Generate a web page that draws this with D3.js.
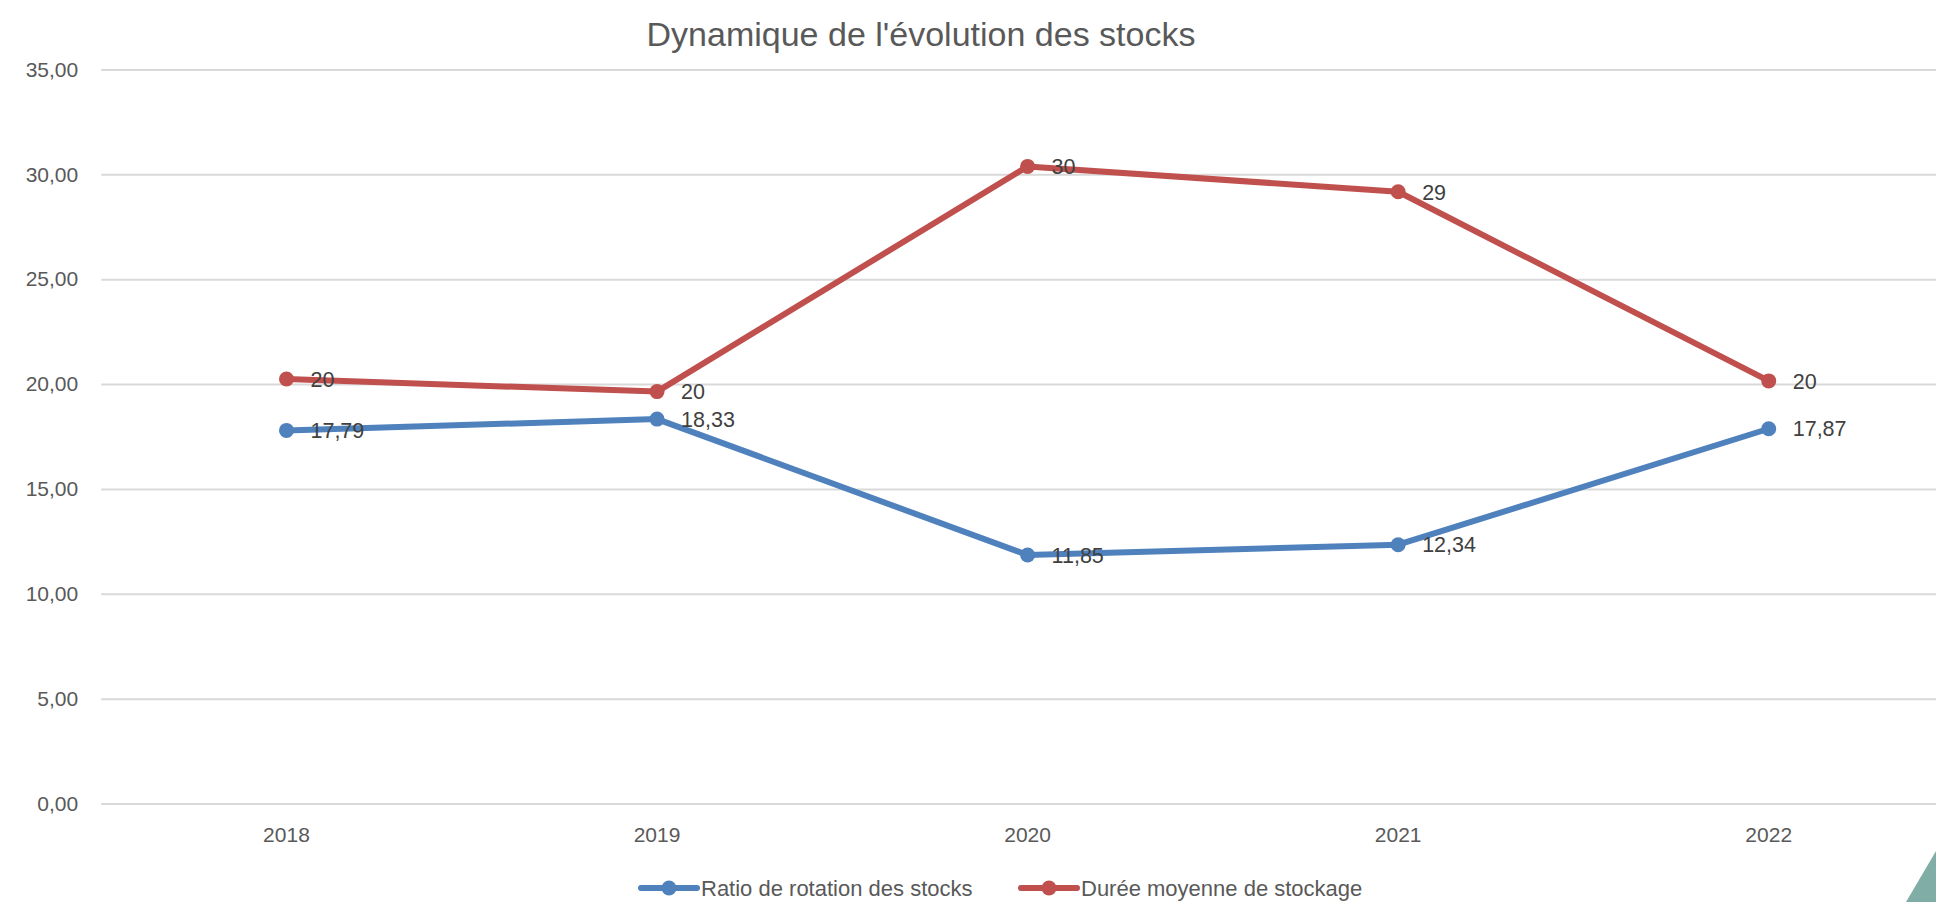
<!DOCTYPE html>
<html>
<head>
<meta charset="utf-8">
<script src="https://cdn.jsdelivr.net/npm/d3@7"></script>
<style>
  html, body { margin: 0; padding: 0; background: #ffffff; overflow: hidden; }
  svg { display: block; }
</style>
</head>
<body>
<svg id="chart" width="1936" height="902"></svg>
<script>
// ---- Data ----
const years = ["2018", "2019", "2020", "2021", "2022"];
const ratioRotation = [17.79, 18.33, 11.85, 12.34, 17.87];
const dureeMoyenne = [20.24, 19.64, 30.38, 29.17, 20.15];
const seriesNames = ["Ratio de rotation des stocks", "Durée moyenne de stockage"];
const yTicks = [0, 5, 10, 15, 20, 25, 30, 35];
const titleText = "Dynamique de l'évolution des stocks";

// ---- Setup ----
const W = 1936, H = 902;
const svg = d3.select("#chart");
const font = "'Liberation Sans', Arial, sans-serif";

const frLocale = d3.formatLocale({decimal: ",", thousands: " ", grouping: [3], currency: ["", " €"]});
const fmt2 = frLocale.format(".2f");
const fmt0 = frLocale.format(".0f");

const plot = {left: 101.2, right: 1954, top: 69.5, bottom: 803.5};

const x = d3.scaleBand().domain(years).range([plot.left, plot.right]).paddingInner(0).paddingOuter(0);
const y = d3.scaleLinear().domain([0, 35]).range([plot.bottom, plot.top]);
const cx = d => x(d) + x.bandwidth() / 2;

// Gridlines + y axis
const yAxis = d3.axisLeft(y).tickValues(yTicks).tickFormat(fmt2)
  .tickSize(-(plot.right - plot.left)).tickPadding(23);
const gy = svg.append("g").attr("transform", `translate(${plot.left},0)`).call(yAxis);
gy.select(".domain").remove();
gy.selectAll(".tick line").attr("stroke", "#d9d9d9").attr("stroke-width", 2);
gy.selectAll(".tick text").attr("fill", "#595959").style("font-family", font).style("font-size", "21px");

// x axis
const xAxis = d3.axisBottom(x).tickSize(0).tickPadding(24);
const gx = svg.append("g").attr("transform", `translate(0,${plot.bottom})`).call(xAxis);
gx.select(".domain").remove();
gx.selectAll(".tick text").attr("fill", "#595959").style("font-family", font).style("font-size", "21px");

// Title
svg.append("text").attr("x", 921).attr("y", 46).attr("text-anchor", "middle")
  .attr("fill", "#595959").style("font-family", font).style("font-size", "34px")
  .text(titleText);

// Series
const series = [
  {name: seriesNames[0], values: ratioRotation, color: "#4f81bd", fmt: fmt2},
  {name: seriesNames[1], values: dureeMoyenne, color: "#c0504d", fmt: fmt0}
];
const line = d3.line().x(d => cx(d.year)).y(d => y(d.value));

series.forEach(s => {
  const pts = years.map((yr, i) => ({year: yr, value: s.values[i]}));
  const g = svg.append("g");
  g.append("path").datum(pts).attr("d", line).attr("fill", "none")
    .attr("stroke", s.color).attr("stroke-width", 6).attr("stroke-linejoin", "round").attr("stroke-linecap", "round");
  g.selectAll("circle").data(pts).join("circle")
    .attr("cx", d => cx(d.year)).attr("cy", d => y(d.value)).attr("r", 7.5).attr("fill", s.color);
  g.selectAll("text").data(pts).join("text")
    .attr("x", d => cx(d.year) + 24).attr("y", d => y(d.value)).attr("dy", "0.36em")
    .attr("fill", "#404040").style("font-family", font).style("font-size", "21.5px")
    .text(d => s.fmt(d.value));
});

// Legend
const legendY = 888;
const legendItems = [{x0: 641, x1: 697, tx: 701}, {x0: 1021, x1: 1077, tx: 1081}];
series.forEach((s, i) => {
  const it = legendItems[i];
  svg.append("line").attr("x1", it.x0).attr("x2", it.x1).attr("y1", legendY).attr("y2", legendY)
    .attr("stroke", s.color).attr("stroke-width", 6).attr("stroke-linecap", "round");
  svg.append("circle").attr("cx", (it.x0 + it.x1) / 2).attr("cy", legendY).attr("r", 7.5).attr("fill", s.color);
  svg.append("text").attr("x", it.tx).attr("y", legendY).attr("dy", "0.36em")
    .attr("fill", "#595959").style("font-family", font).style("font-size", "22px")
    .text(s.name);
});

// Decorative corner triangle
svg.append("polygon").attr("points", `1906,${H} ${W},851 ${W},${H}`).attr("fill", "#80aea6");
</script>
</body>
</html>
